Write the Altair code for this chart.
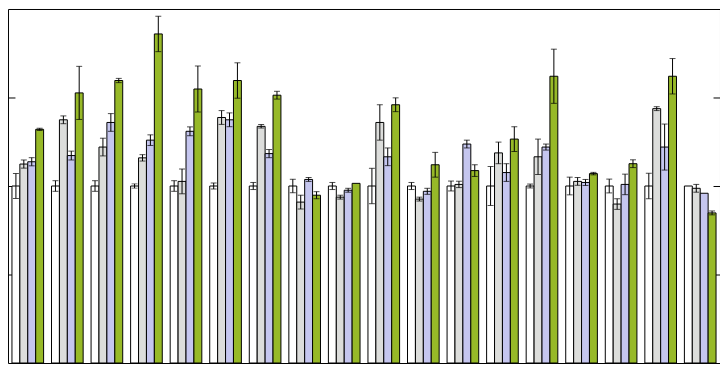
import altair as alt
import pandas as pd

groups = [str(i) for i in range(1, 19)]
series = ["A", "B", "C", "D"]
colors = ["#ffffff", "#dcdddb", "#c5c6ef", "#97b928"]

s_a = [1.0] * 18
s_a_err = [0.07, 0.03, 0.03, 0.012, 0.03, 0.017, 0.02, 0.038, 0.02, 0.1, 0.02, 0.028, 0.11, 0.011, 0.05, 0.039, 0.072, 0.0]
s_b = [1.124, 1.374, 1.22, 1.159, 1.026, 1.387, 1.337, 0.909, 0.937, 1.359, 0.926, 1.009, 1.187, 1.165, 1.026, 0.898, 1.437, 0.987]
s_b_err = [0.023, 0.022, 0.05, 0.018, 0.07, 0.039, 0.01, 0.039, 0.011, 0.1, 0.011, 0.018, 0.061, 0.1, 0.022, 0.03, 0.011, 0.022]
s_c = [1.137, 1.172, 1.359, 1.259, 1.309, 1.374, 1.183, 1.037, 0.976, 1.165, 0.97, 1.237, 1.076, 1.22, 1.02, 1.009, 1.22, 0.959]
s_c_err = [0.023, 0.025, 0.05, 0.03, 0.025, 0.039, 0.023, 0.011, 0.011, 0.05, 0.017, 0.022, 0.05, 0.017, 0.017, 0.058, 0.13, 0.0]
s_d = [1.32, 1.526, 1.596, 1.859, 1.548, 1.596, 1.513, 0.948, 1.015, 1.459, 1.12, 1.087, 1.265, 1.62, 1.07, 1.126, 1.62, 0.848]
s_d_err = [0.006, 0.15, 0.012, 0.1, 0.13, 0.1, 0.022, 0.02, 0.0, 0.039, 0.07, 0.033, 0.07, 0.153, 0.007, 0.022, 0.1, 0.011]

rows = []
for name, vals, errs in zip(series, [s_a, s_b, s_c, s_d], [s_a_err, s_b_err, s_c_err, s_d_err]):
    for g, v, e in zip(groups, vals, errs):
        rows.append({"group": g, "series": name, "value": v, "lo": v - e, "hi": v + e, "err": e})
df = pd.DataFrame(rows)

x = alt.X("group:N", sort=groups, axis=None, scale=alt.Scale(paddingInner=0.2, paddingOuter=0.1))
xo = alt.XOffset("series:N", sort=series, scale=alt.Scale(paddingInner=0, paddingOuter=0))
yscale = alt.Scale(domain=[0, 2], nice=False)

base = alt.Chart(df)

bars = base.mark_bar(stroke="black", strokeWidth=1).encode(
    x=x, xOffset=xo,
    y=alt.Y("value:Q", scale=yscale,
            axis=alt.Axis(values=[0.5, 1.0, 1.5], labels=False, domain=False, grid=False,
                          tickSize=7, offset=-7, tickColor="black", tickWidth=1, title=None, orient="left")),
    color=alt.Color("series:N", sort=series, scale=alt.Scale(domain=series, range=colors), legend=None),
)

errdf = base.transform_filter("datum.err > 0")

rules = errdf.mark_rule(color="black", strokeWidth=1).encode(
    x=x, xOffset=xo,
    y=alt.Y("lo:Q", scale=yscale, axis=None), y2="hi:Q",
)

caps_lo = errdf.mark_tick(color="black", thickness=1, size=6, orient="horizontal").encode(
    x=x, xOffset=xo,
    y=alt.Y("lo:Q", scale=yscale,
            axis=alt.Axis(values=[0.5, 1.0, 1.5], labels=False, domain=False, grid=False,
                          tickSize=7, offset=-7, tickColor="black", tickWidth=1, title=None, orient="right")),
)
caps_hi = errdf.mark_tick(color="black", thickness=1, size=6, orient="horizontal").encode(
    x=x, xOffset=xo,
    y=alt.Y("hi:Q", scale=yscale, axis=None),
)

chart = alt.layer(bars, rules, caps_lo, caps_hi).resolve_axis(y="independent").properties(
    width=716, height=356, padding=0, autosize=alt.AutoSizeParams(type="none"),
).configure_view(stroke="black", strokeWidth=1)

chart.save("out.html", embed_options={"renderer": "svg", "actions": False})
